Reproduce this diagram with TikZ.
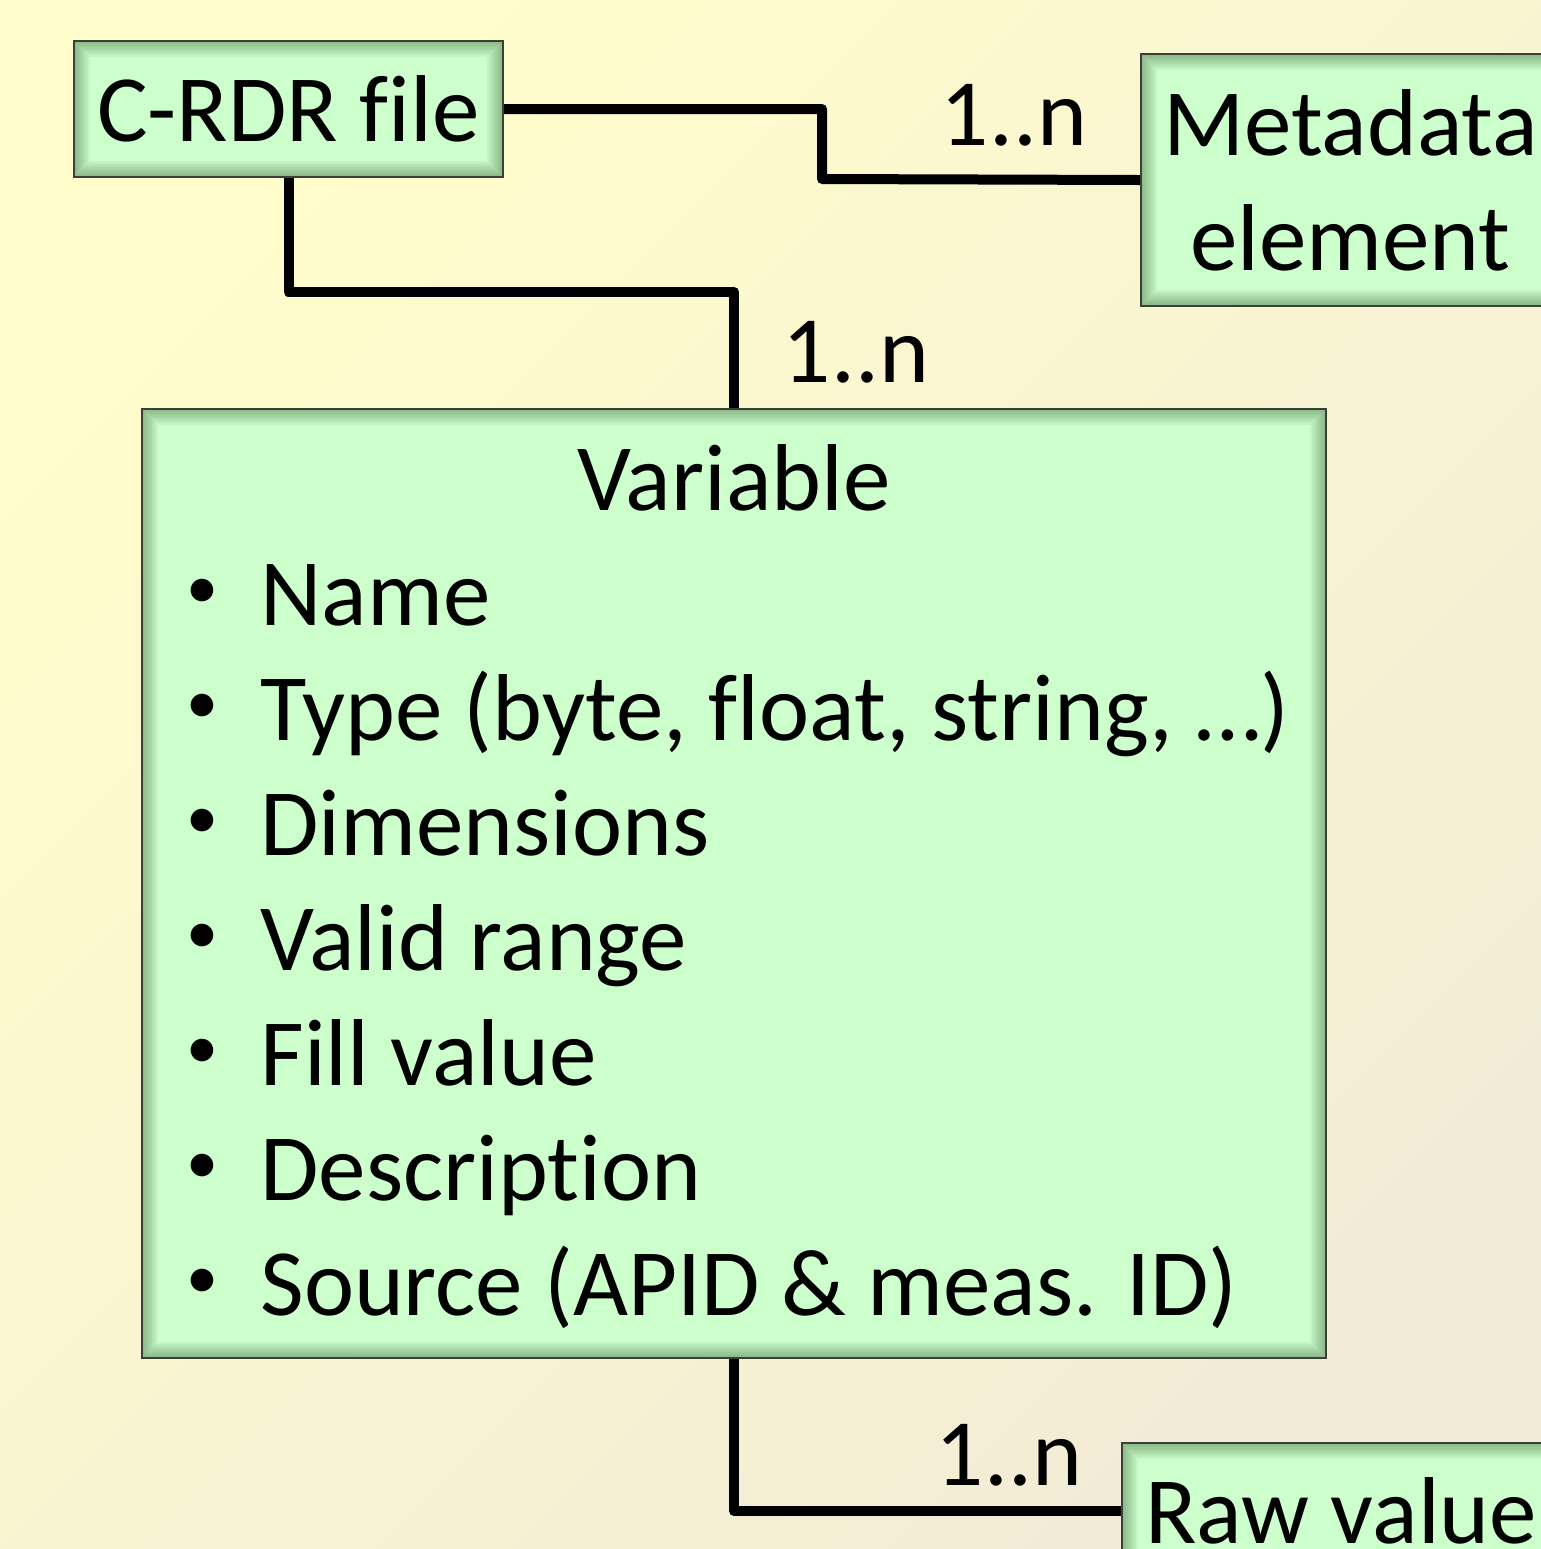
\documentclass[tikz,border=0pt]{standalone}
\usepackage{fontspec}
\setmainfont{Carlito}[Ligatures={NoCommon,NoRare,NoContextual}]
\definecolor{bgA}{RGB}{255,253,204}
\definecolor{bgB}{RGB}{242,236,214}
\definecolor{boxfill}{RGB}{204,255,204}
\definecolor{boxline}{RGB}{58,64,56}
\definecolor{shadowc}{RGB}{40,80,30}
\newcommand{\mybul}{\llap{\makebox[0pt][c]{\raisebox{8.5pt}{\fontsize{32pt}{32pt}\selectfont •}}\hspace{29pt}}}
\tikzset{
  umlbox/.style={draw=boxline, line width=1pt, fill=boxfill, inner sep=0pt,
    path picture={
      \foreach \i in {1,...,8}{
        \draw[shadowc, opacity=0.055, line width=2*\i pt]
          (path picture bounding box.south west) rectangle (path picture bounding box.north east);
      }
    }},
  txt/.style={inner sep=0pt, font=\fontsize{47.5pt}{57.5pt}\selectfont},
  conn/.style={line width=5pt, line join=round},
}
\begin{document}
\begin{tikzpicture}[x=0.5pt, y=-0.5pt]
\useasboundingbox (0,0) rectangle (1541,1549);
\clip (0,0) rectangle (1541,1549);
\path[top color=bgA, bottom color=bgB, shading angle=45] (0,0) rectangle (1541,1549);

% boxes
\node[umlbox, txt, minimum width=214.5pt, minimum height=68pt] (crdr) at (288.5,109) {C-RDR file};
\node[umlbox, txt, align=center, minimum width=209.5pt, minimum height=126pt] (meta) at (1350.5,180) {Metadata\\element};
\node[umlbox, minimum width=592pt, minimum height=474.5pt] (var) at (734,883.5) {};
\node[umlbox, txt, minimum width=219pt, minimum height=68pt] (raw) at (1341,1511) {Raw value};

% variable contents
\node[txt, anchor=base] (vtitle) at (734,510) {Variable};
\node[txt, anchor=base west] (v1) at (260,625) {\mybul Name};
\node[txt, anchor=base west] (v2) at (260,740) {\mybul Type (byte, float, string, …)};
\node[txt, anchor=base west] (v3) at (260,855) {\mybul Dimensions};
\node[txt, anchor=base west] (v4) at (260,970) {\mybul Valid range};
\node[txt, anchor=base west] (v5) at (260,1085) {\mybul Fill value};
\node[txt, anchor=base west] (v6) at (260,1200) {\mybul Description};
\node[txt, anchor=base west] (v7) at (260,1315) {\mybul Source (APID \& meas. ID)};

% connectors
\draw[conn] (crdr.east) -- (822,109) -- (822,179) -- (meta.west);
\draw[conn] (crdr.south) -- (288.5,292) -- (734,292) -- (var.north);
\draw[conn] (var.south) -- (734,1511) -- (raw.west);

% multiplicities
\node[txt, anchor=base] (m1) at (1014,145) {1..n};
\node[txt, anchor=base] (m2) at (856,382) {1..n};
\node[txt, anchor=base] (m3) at (1009,1485) {1..n};
\end{tikzpicture}
\end{document}
